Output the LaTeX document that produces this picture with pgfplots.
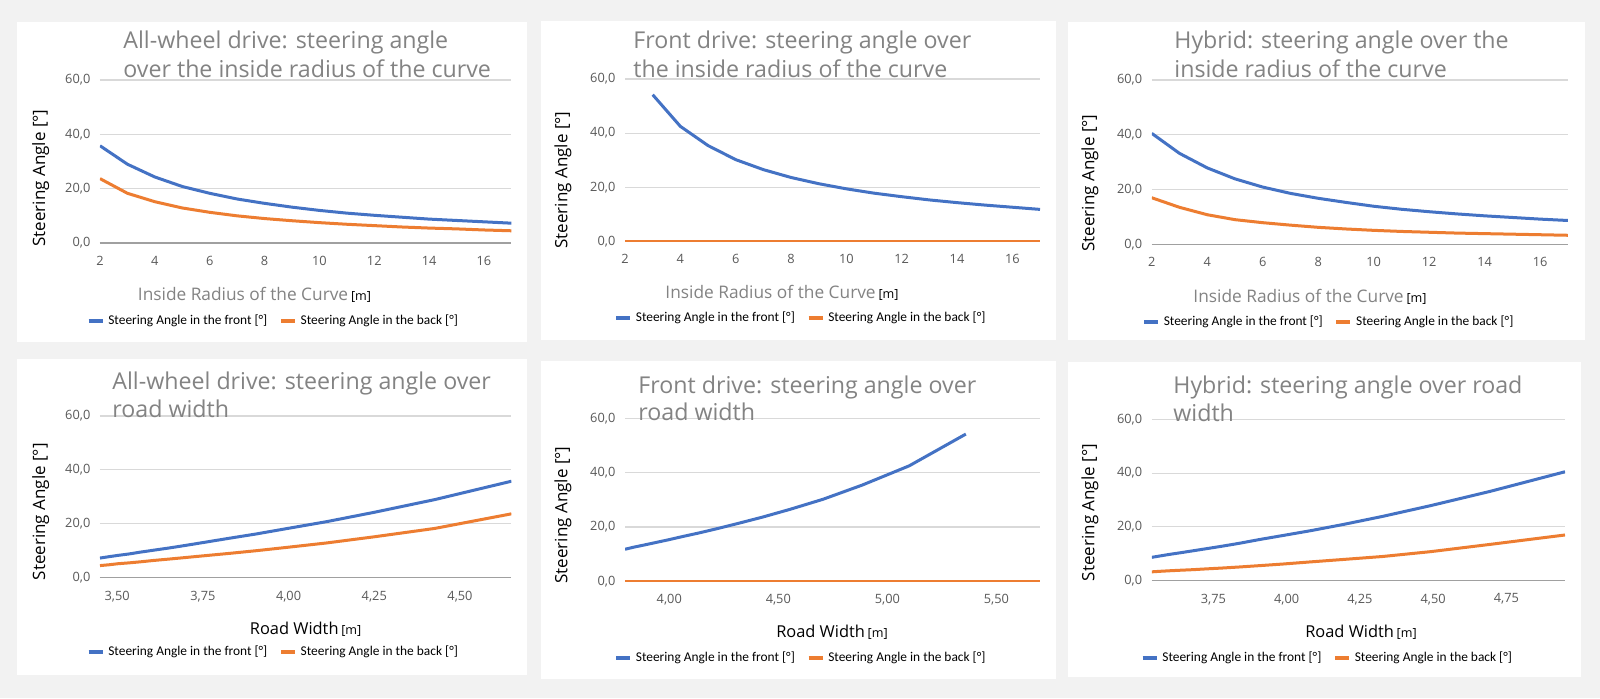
\documentclass[border=0pt]{standalone}
\usepackage{fontspec}
\setmainfont{Open Sans}
\newfontfamily\legfont{Carlito}
\usepackage{pgfplots}
\usepackage{pgfplotstable}
\pgfplotsset{compat=1.18}

\definecolor{bgc}{HTML}{F2F2F2}
\definecolor{blueS}{HTML}{4472C4}
\definecolor{orangeS}{HTML}{ED7D31}
\definecolor{gridc}{HTML}{D9D9D9}
\definecolor{zeroc}{HTML}{A0A0A0}
\definecolor{tickc}{HTML}{595959}
\definecolor{titlec}{HTML}{838383}

\newcommand{\titlefont}{\fontsize{11.6}{13}\selectfont}
\newcommand{\ylabfont}{\fontsize{8.5}{9.6}\selectfont}
\newcommand{\xlabfont}{\fontsize{8.65}{9.6}\selectfont}
\newcommand{\roadfont}{\fontsize{8.2}{9.6}\selectfont}
\newcommand{\unitfont}{\fontsize{6.3}{7}\selectfont}
\newcommand{\tickfont}{\fontsize{6.4}{7.2}\selectfont}

\pgfplotstableread{
R W F B
2 4.650 35.8 23.7
3 4.427 29.0 18.3
4 4.251 24.3 15.2
5 4.111 20.8 12.9
6 3.998 18.3 11.3
7 3.904 16.2 10.0
8 3.825 14.6 9.0
9 3.758 13.2 8.2
10 3.700 12.0 7.5
11 3.650 11.0 6.9
12 3.606 10.2 6.4
13 3.568 9.5 5.9
14 3.534 8.8 5.5
15 3.503 8.3 5.2
16 3.476 7.8 4.8
17 3.450 7.3 4.5
}\awd

\pgfplotstableread{
R W F B
2 5.700 nan 0
3 5.360 54.2 0
4 5.100 42.5 0
5 4.884 35.4 0
6 4.705 30.2 0
7 4.554 26.5 0
8 4.426 23.6 0
9 4.315 21.3 0
10 4.220 19.4 0
11 4.136 17.8 0
12 4.062 16.5 0
13 3.997 15.3 0
14 3.939 14.3 0
15 3.887 13.4 0
16 3.839 12.6 0
17 3.797 11.8 0
}\fwd

\pgfplotstableread{
R W F B
2 4.950 40.5 17.0
3 4.694 33.2 13.5
4 4.491 27.9 10.8
5 4.327 23.9 9.0
6 4.193 20.9 7.9
7 4.082 18.6 7.0
8 3.987 16.8 6.2
9 3.907 15.3 5.6
10 3.838 13.9 5.1
11 3.778 12.8 4.7
12 3.726 11.9 4.4
13 3.679 11.1 4.1
14 3.638 10.4 3.9
15 3.601 9.8 3.7
16 3.568 9.2 3.5
17 3.540 8.7 3.3
}\hyb

\pgfplotsset{
  panel/.style={
    anchor=south west, scale only axis,
    ymin=0, ymax=60, ytick={0,20,40,60},
    ymajorgrids, grid style={draw=gridc, line width=0.55pt},
    extra y ticks={0}, extra y tick labels={},
    extra y tick style={grid style={draw=zeroc, line width=0.75pt}},
    axis line style={draw=none},
    major tick length=0pt,
    /pgf/number format/assume math mode=true,
    yticklabel={\pgfmathprintnumber[fixed,fixed zerofill,precision=1,use comma]{\tick}},
    ticklabel style={font=\tickfont, text=tickc},
    yticklabel style={xshift=-1.3pt},
    xticklabel style={yshift=-3.0pt},
    no markers,
    every axis plot/.append style={line width=1.5pt},
    legend columns=2,
    legend style={draw=none, fill=none, anchor=center,
      font=\legfont\fontsize{6.7}{8}\selectfont,
      /tikz/every even column/.append style={column sep=4pt}},
    legend image code/.code={\draw[#1, line width=1.7pt] (0pt,0pt) -- (7pt,0pt);},
  },
  radius/.style={xmin=2, xmax=17, xtick={2,4,...,16}},
  road/.style={xticklabel={\pgfmathprintnumber[fixed,fixed zerofill,precision=2,use comma]{\tick}}},
}

\begin{document}
\begin{tikzpicture}
\begin{scope}[x=0.5pt, y=-0.5pt]
\path[use as bounding box, fill=bgc] (0,0) rectangle (1600,698);
\fill[white] (16.5,22) rectangle (527,342);
\fill[white] (541,21) rectangle (1056,340);
\fill[white] (1067.5,22) rectangle (1584.5,340);
\fill[white] (16.5,359) rectangle (527,675);
\fill[white] (541,361) rectangle (1056,679);
\fill[white] (1067.5,362) rectangle (1581,677);
\end{scope}

% ---------- Panel 1
\begin{axis}[panel, radius, at={(50pt,-121.5pt)}, width=205.7pt, height=81.5pt,
  legend style={at={(axis description cs:0.424,-0.4785)}}]
\addplot[blueS] table[x=R,y=F]{\awd};
\addlegendentry{Steering Angle in the front [°]}
\addplot[orangeS] table[x=R,y=B]{\awd};
\addlegendentry{Steering Angle in the back [°]}
\end{axis}

% ---------- Panel 2
\begin{axis}[panel, radius, at={(312.5pt,-120.65pt)}, width=207.5pt, height=81.15pt,
  legend style={at={(axis description cs:0.4265,-0.473)}}]
\addplot[blueS] table[x=R,y=F]{\fwd};
\addlegendentry{Steering Angle in the front [°]}
\addplot[orangeS] table[x=R,y=B]{\fwd};
\addlegendentry{Steering Angle in the back [°]}
\end{axis}

% ---------- Panel 3
\begin{axis}[panel, radius, at={(575.9pt,-122.15pt)}, width=208pt, height=82.15pt,
  legend style={at={(axis description cs:0.428,-0.473)}}]
\addplot[blueS] table[x=R,y=F]{\hyb};
\addlegendentry{Steering Angle in the front [°]}
\addplot[orangeS] table[x=R,y=B]{\hyb};
\addlegendentry{Steering Angle in the back [°]}
\end{axis}

% ---------- Panel 4
\begin{axis}[panel, road, at={(50pt,-288.85pt)}, width=205.7pt, height=80.85pt,
  xmin=3.45, xmax=4.65, xtick={3.5,3.75,4,4.25,4.5},
  legend style={at={(axis description cs:0.424,-0.4595)}}]
\addplot[blueS] table[x=W,y=F]{\awd};
\addlegendentry{Steering Angle in the front [°]}
\addplot[orangeS] table[x=W,y=B]{\awd};
\addlegendentry{Steering Angle in the back [°]}
\end{axis}

% ---------- Panel 5
\begin{axis}[panel, road, at={(312.5pt,-290.65pt)}, width=207.5pt, height=81.5pt,
  xmin=3.797, xmax=5.70, xtick={4,4.5,5,5.5},
  legend style={at={(axis description cs:0.4265,-0.4706)}}]
\addplot[blueS] table[x=W,y=F]{\fwd};
\addlegendentry{Steering Angle in the front [°]}
\addplot[orangeS] table[x=W,y=B]{\fwd};
\addlegendentry{Steering Angle in the back [°]}
\end{axis}

% ---------- Panel 6
\begin{axis}[panel, road, at={(575.9pt,-290.35pt)}, width=206.6pt, height=80.7pt,
  xmin=3.54, xmax=4.95, xtick={3.75,4,4.25,4.5,4.75},
  legend style={at={(axis description cs:0.4276,-0.479)}}]
\addplot[blueS] table[x=W,y=F]{\hyb};
\addlegendentry{Steering Angle in the front [°]}
\addplot[orangeS] table[x=W,y=B]{\hyb};
\addlegendentry{Steering Angle in the back [°]}
\end{axis}

\begin{scope}[x=0.5pt, y=-0.5pt]
\node[anchor=base west, inner sep=0, font=\titlefont, text=titlec] at (123,48) {All-wheel drive: steering angle};
\node[anchor=base west, inner sep=0, font=\titlefont, text=titlec] at (123,77) {over the inside radius of the curve};
\node[rotate=90, inner sep=0, font=\ylabfont] at (40.6,178) {Steering Angle [°]};
\node[anchor=base, inner sep=0, font=\xlabfont] at (254.5,300) {\textcolor{titlec}{Inside Radius of the Curve}\,{\unitfont[m]}};

\node[anchor=base west, inner sep=0, font=\titlefont, text=titlec] at (633,48) {Front drive: steering angle over};
\node[anchor=base west, inner sep=0, font=\titlefont, text=titlec] at (633,77) {the inside radius of the curve};
\node[rotate=90, inner sep=0, font=\ylabfont] at (563,180) {Steering Angle [°]};
\node[anchor=base, inner sep=0, font=\xlabfont] at (782,298) {\textcolor{titlec}{Inside Radius of the Curve}\,{\unitfont[m]}};

\node[anchor=base west, inner sep=0, font=\titlefont, text=titlec] at (1174,48) {Hybrid: steering angle over the};
\node[anchor=base west, inner sep=0, font=\titlefont, text=titlec] at (1174,77) {inside radius of the curve};
\node[rotate=90, inner sep=0, font=\ylabfont] at (1090,183) {Steering Angle [°]};
\node[anchor=base, inner sep=0, font=\xlabfont] at (1310,302) {\textcolor{titlec}{Inside Radius of the Curve}\,{\unitfont[m]}};

\node[anchor=base west, inner sep=0, font=\titlefont, text=titlec] at (112,389) {All-wheel drive: steering angle over};
\node[anchor=base west, inner sep=0, font=\titlefont, text=titlec] at (112,417) {road width};
\node[rotate=90, inner sep=0, font=\ylabfont] at (40.6,511.7) {Steering Angle [°]};
\node[anchor=base, inner sep=0, font=\roadfont] at (305.6,634) {Road Width\,{\unitfont[m]}};

\node[anchor=base west, inner sep=0, font=\titlefont, text=titlec] at (638,393) {Front drive: steering angle over};
\node[anchor=base west, inner sep=0, font=\titlefont, text=titlec] at (638,420) {road width};
\node[rotate=90, inner sep=0, font=\ylabfont] at (563,515) {Steering Angle [°]};
\node[anchor=base, inner sep=0, font=\roadfont] at (832,637) {Road Width\,{\unitfont[m]}};

\node[anchor=base west, inner sep=0, font=\titlefont, text=titlec] at (1173,393) {Hybrid: steering angle over road};
\node[anchor=base west, inner sep=0, font=\titlefont, text=titlec] at (1173,421) {width};
\node[rotate=90, inner sep=0, font=\ylabfont] at (1090,512.5) {Steering Angle [°]};
\node[anchor=base, inner sep=0, font=\roadfont] at (1361,637) {Road Width\,{\unitfont[m]}};
\end{scope}
\end{tikzpicture}
\end{document}
